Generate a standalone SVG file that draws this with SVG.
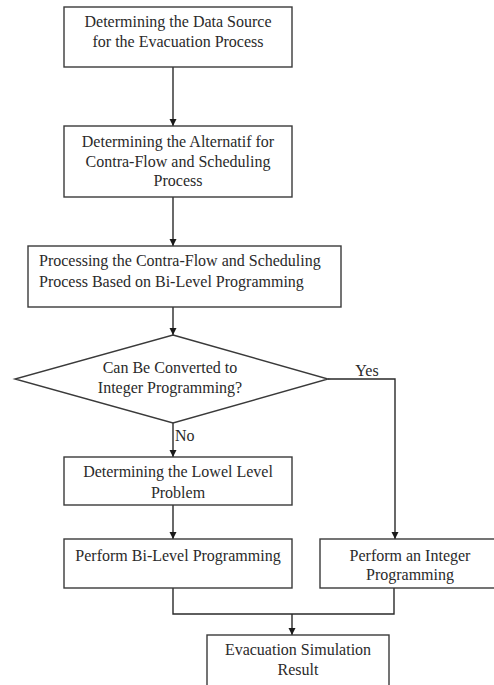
<svg xmlns="http://www.w3.org/2000/svg" width="494" height="685" viewBox="0 0 494 685">
<style>
.box{fill:#fff;stroke:#3a3a3a;stroke-width:1.4}
.t{font-family:"Liberation Serif","Times New Roman",serif;font-size:16px;fill:#2a2a2a;text-anchor:middle}
.tl{text-anchor:start}
.c{fill:none;stroke:#2a2a2a;stroke-width:1.4}
</style>
<defs>
<marker id="ah" markerWidth="8" markerHeight="8" refX="7" refY="4" orient="auto" markerUnits="userSpaceOnUse">
<path d="M0,0.5 L7,4 L0,7.5 z" fill="#1a1a1a"/>
</marker>
</defs>
<rect width="494" height="685" fill="#fff"/>
<g id="connectors">
<line class="c" x1="173" y1="67" x2="173" y2="126" marker-end="url(#ah)"/>
<line class="c" x1="173" y1="197" x2="173" y2="246" marker-end="url(#ah)"/>
<line class="c" x1="173" y1="307" x2="173" y2="335" marker-end="url(#ah)"/>
<line class="c" x1="173" y1="423" x2="173" y2="457" marker-end="url(#ah)"/>
<polyline class="c" points="328,379 395,379 395,539" marker-end="url(#ah)"/>
<line class="c" x1="173" y1="505" x2="173" y2="539" marker-end="url(#ah)"/>
<polyline class="c" points="173,588 173,614 394,614 394,588"/>
<line class="c" x1="292" y1="614" x2="292" y2="635" marker-end="url(#ah)"/>
<text class="t" x="367" y="376">Yes</text>
<text class="t tl" x="175" y="441">No</text>
</g>
<g id="n1">
<rect class="box" x="64" y="7" width="228" height="60"/>
<text class="t" x="178" y="27">Determining the Data Source</text>
<text class="t" x="178" y="47">for the Evacuation Process</text>
</g>
<g id="n2">
<rect class="box" x="64" y="126" width="228" height="71"/>
<text class="t" x="178" y="147">Determining the Alternatif for</text>
<text class="t" x="178" y="167">Contra-Flow and Scheduling</text>
<text class="t" x="178" y="186">Process</text>
</g>
<g id="n3">
<rect class="box" x="28" y="246" width="313" height="61"/>
<text class="t tl" x="39" y="266">Processing the Contra-Flow and Scheduling</text>
<text class="t tl" x="39" y="287">Process Based on Bi-Level Programming</text>
</g>
<g id="n4">
<polygon class="box" points="173,335 328,379 173,423 15,379"/>
<text class="t" x="170" y="373">Can Be Converted to</text>
<text class="t" x="170" y="393">Integer Programming?</text>
</g>
<g id="n5">
<rect class="box" x="64" y="457" width="228" height="48"/>
<text class="t" x="178" y="477">Determining the Lowel Level</text>
<text class="t" x="178" y="498">Problem</text>
</g>
<g id="n6">
<rect class="box" x="64" y="539" width="228" height="49"/>
<text class="t" x="178" y="561">Perform Bi-Level Programming</text>
</g>
<g id="n7">
<rect class="box" x="320" y="539" width="190" height="49"/>
<text class="t" x="410" y="561">Perform an Integer</text>
<text class="t" x="410" y="580">Programming</text>
</g>
<g id="n8">
<rect class="box" x="207" y="635" width="182" height="70"/>
<text class="t" x="298" y="655">Evacuation Simulation</text>
<text class="t" x="298" y="675">Result</text>
</g>
</svg>
